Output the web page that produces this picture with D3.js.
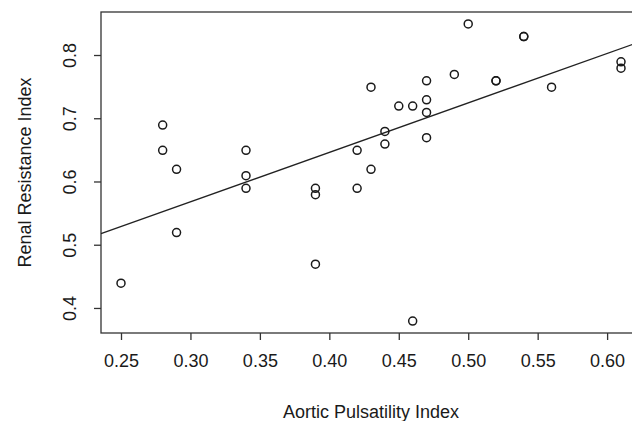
<!DOCTYPE html>
<html lang="en">
  <head>
    <meta charset="utf-8" />
    <title>Renal Resistance vs Aortic Pulsatility</title>
    <script src="https://d3js.org/d3.v7.min.js" charset="utf-8"></script>
    <style>
      body { margin: 0; background: #fff; }
      svg { display: block; font-family: "Liberation Sans", Arial, Helvetica, sans-serif; }
      .axis text { font-size: 18px; fill: #1a1a1a; }
      .axis path, .axis line { stroke: #333; stroke-width: 1.3; }
    </style>
  </head>
  <body>
    <div id="svg-container"></div>
    <script>
      // data
      const aorticPI = [0.25, 0.28, 0.28, 0.29, 0.29, 0.34, 0.34, 0.34, 0.39, 0.39, 0.39,
        0.42, 0.42, 0.43, 0.43, 0.44, 0.44, 0.45, 0.46, 0.46, 0.47, 0.47, 0.47, 0.47,
        0.49, 0.50, 0.52, 0.52, 0.54, 0.54, 0.56, 0.61, 0.61];
      const renalRI = [0.44, 0.69, 0.65, 0.62, 0.52, 0.65, 0.61, 0.59, 0.59, 0.58, 0.47,
        0.65, 0.59, 0.75, 0.62, 0.68, 0.66, 0.72, 0.72, 0.38, 0.76, 0.73, 0.71, 0.67,
        0.77, 0.85, 0.76, 0.76, 0.83, 0.83, 0.75, 0.79, 0.78];
      const xTicks = [0.25, 0.30, 0.35, 0.40, 0.45, 0.50, 0.55, 0.60];
      const yTicks = [0.4, 0.5, 0.6, 0.7, 0.8];
      // fitted line (intercept, slope) as it appears in the plot
      const fitIntercept = 0.334;
      const fitSlope = 0.782;

      const points = aorticPI.map((x, i) => ({ x: x, y: renalRI[i] }));

      const W = 632, H = 421;
      const margin = { top: 12, left: 101 };
      const plotW = 540, plotH = 321;

      const svg = d3.select("#svg-container").append("svg")
        .attr("width", W).attr("height", H);

      // R style: 4% padding around the data range
      const xr = d3.extent(aorticPI), yr = d3.extent(renalRI);
      const xpad = (xr[1] - xr[0]) * 0.04, ypad = (yr[1] - yr[0]) * 0.04;
      const x = d3.scaleLinear().domain([xr[0] - xpad, xr[1] + xpad])
        .range([margin.left, margin.left + plotW]);
      const y = d3.scaleLinear().domain([yr[0] - ypad, yr[1] + ypad])
        .range([margin.top + plotH, margin.top]);

      const g_x = svg.append("g").attr("class", "axis")
        .attr("transform", `translate(0,${margin.top + plotH})`)
        .call(d3.axisBottom(x).tickValues(xTicks).tickFormat(d3.format(".2f"))
          .tickSizeInner(7).tickSizeOuter(0).tickPadding(14));
      g_x.select(".domain").remove();

      const g_y = svg.append("g").attr("class", "axis")
        .attr("transform", `translate(${margin.left},0)`)
        .call(d3.axisLeft(y).tickValues(yTicks).tickFormat(d3.format(".1f"))
          .tickSizeInner(7).tickSizeOuter(0).tickPadding(0));
      g_y.select(".domain").remove();
      g_y.selectAll("text")
        .attr("transform", (d) => `translate(-25,${y(d)}) rotate(-90)`)
        .attr("x", 0).attr("y", 0).attr("dy", 0)
        .attr("text-anchor", "middle");
      g_y.selectAll(".tick").attr("transform", null);
      g_y.selectAll(".tick line").attr("y1", (d) => y(d)).attr("y2", (d) => y(d));

      // box
      svg.append("rect")
        .attr("x", margin.left).attr("y", margin.top)
        .attr("width", plotW).attr("height", plotH)
        .attr("fill", "none").attr("stroke", "#333").attr("stroke-width", 1.3);

      // fit line
      const xd = x.domain();
      svg.append("line")
        .attr("x1", x(xd[0])).attr("y1", y(fitIntercept + fitSlope * xd[0]))
        .attr("x2", x(xd[1])).attr("y2", y(fitIntercept + fitSlope * xd[1]))
        .attr("stroke", "#222").attr("stroke-width", 1.3);

      svg.append("g").selectAll("circle")
        .data(points)
        .join("circle")
        .attr("cx", (d) => x(d.x))
        .attr("cy", (d) => y(d.y))
        .attr("r", 4)
        .attr("fill", "none")
        .attr("stroke", "#1a1a1a")
        .attr("stroke-width", 1.5);

      svg.append("text")
        .attr("x", margin.left + plotW / 2)
        .attr("y", 418)
        .attr("text-anchor", "middle")
        .attr("font-size", 18).attr("fill", "#1a1a1a")
        .text("Aortic Pulsatility Index");

      svg.append("text")
        .attr("transform", `translate(31,${margin.top + plotH / 2}) rotate(-90)`)
        .attr("text-anchor", "middle")
        .attr("font-size", 18).attr("fill", "#1a1a1a")
        .text("Renal Resistance Index");
    </script>
  </body>
</html>
